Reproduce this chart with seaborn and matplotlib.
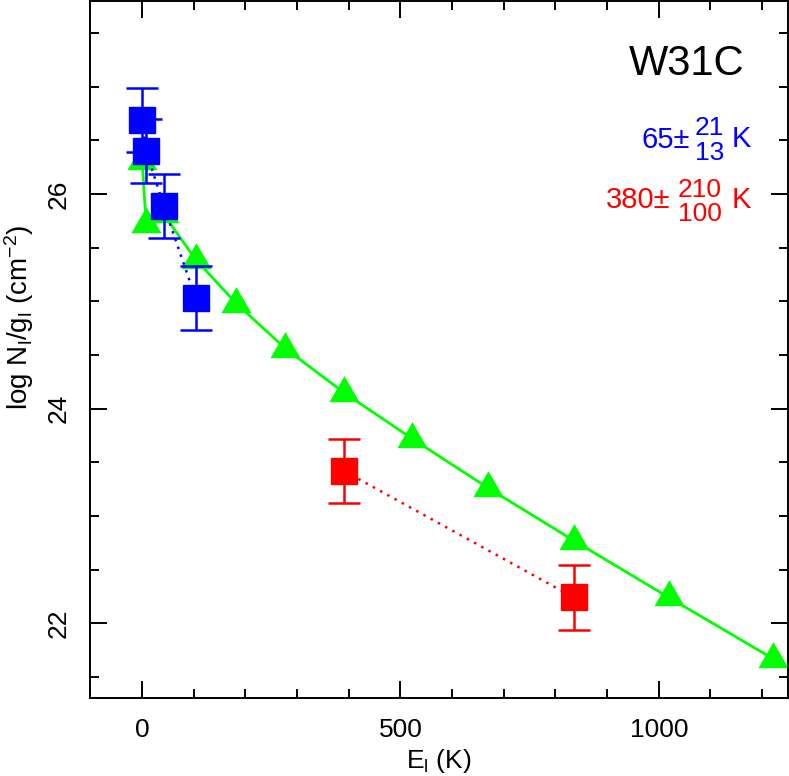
import matplotlib
matplotlib.use("Agg")
import matplotlib.pyplot as plt
from matplotlib.ticker import MultipleLocator
import seaborn as sns
import pandas as pd

# green model curve (triangles); last point lies past the right edge
tri_e = [0, 7.7, 42, 103.5, 182.5, 277.4, 390.5, 522.6, 669.8, 835.5, 1019.4, 1220.7, 1440]
tri_logn = [26.31, 25.72, 25.81, 25.39, 24.98, 24.56, 24.15, 23.72, 23.26, 22.77, 22.24, 21.67, 21.06]

# blue component (cold)
blue_e = [0, 7.7, 42, 103.5]
blue_logn = [26.69, 26.40, 25.89, 25.03]
blue_err = [0.30, 0.30, 0.30, 0.30]

# red component (warm)
red_e = [390.5, 835.5]
red_logn = [23.42, 22.24]
red_err = [0.30, 0.30]

source_name = "W31C"
blue_temp = ("65\u00b1", "21", "13")
red_temp = ("380\u00b1", "210", "100")

sns.set_style("ticks")
plt.rcParams["font.family"] = ["Liberation Sans", "DejaVu Sans"]
plt.rcParams["mathtext.fontset"] = "custom"
plt.rcParams["mathtext.rm"] = "Liberation Sans"
plt.rcParams["mathtext.default"] = "regular"

fig = plt.figure(figsize=(7.89, 7.76), dpi=100)
ax = fig.add_axes([0.1147, 0.1001, 0.8840, 0.8986])

tri = [(0, 0.577), (-0.5, -0.289), (0.5, -0.289)]
df_tri = pd.DataFrame({"E": tri_e, "N": tri_logn})
sns.lineplot(data=df_tri, x="E", y="N", ax=ax, color="#00ff00", lw=2,
             marker=tri, markersize=25, markeredgewidth=0, sort=False,
             estimator=None, zorder=2)

df_blue = pd.DataFrame({"E": blue_e, "N": blue_logn})
df_red = pd.DataFrame({"E": red_e, "N": red_logn})
sns.lineplot(data=df_blue, x="E", y="N", ax=ax, color="#0000ff", lw=1.8,
             linestyle=(0, (1, 2.3)), sort=False, estimator=None, zorder=3)
sns.lineplot(data=df_red, x="E", y="N", ax=ax, color="#ff0000", lw=1.8,
             linestyle=(0, (1, 2.3)), sort=False, estimator=None, zorder=3)

ax.errorbar(blue_e, blue_logn, yerr=blue_err, fmt="s", color="#0000ff",
            ms=19, mec="#0000ff", elinewidth=1.8, capsize=11.5, capthick=1.8, zorder=4)
ax.errorbar(red_e, red_logn, yerr=red_err, fmt="s", color="#ff0000",
            ms=19, mec="#ff0000", elinewidth=1.8, capsize=11.5, capthick=1.8, zorder=4)

ax.set_xlim(-100, 1250)
ax.set_ylim(21.3, 27.8)
ax.xaxis.set_major_locator(MultipleLocator(500))
ax.xaxis.set_minor_locator(MultipleLocator(100))
ax.yaxis.set_major_locator(MultipleLocator(2))
ax.yaxis.set_minor_locator(MultipleLocator(0.5))
ax.tick_params(which="both", direction="in", top=True, right=True,
               width=1.4, colors="black", labelsize=19, pad=14)
ax.tick_params(which="major", length=12)
ax.tick_params(which="minor", length=6.5)
for lab in ax.get_yticklabels():
    lab.set_rotation(90)
    lab.set_va("center")
for sp in ax.spines.values():
    sp.set_linewidth(1.4)
    sp.set_color("black")

ax.set_xlabel(r"E$_{l}$ (K)", fontsize=19, labelpad=4, color="black")
ax.set_ylabel(r"log N$_{l}$/g$_{l}$ (cm$^{-2}$)", fontsize=20, color="black")
ax.yaxis.set_label_coords(-0.078, 0.547)

tr = ax.transAxes
ax.text(0.938, 0.9097, source_name, transform=tr, ha="right", va="center",
        fontsize=30, color="black")

ax.text(0.8595, 0.7888, blue_temp[0], transform=tr, ha="right", va="baseline", fontsize=21, color="#0000ff")
ax.text(0.8667, 0.8085, blue_temp[1], transform=tr, ha="left", va="baseline", fontsize=19, color="#0000ff")
ax.text(0.8667, 0.7725, blue_temp[2], transform=tr, ha="left", va="baseline", fontsize=19, color="#0000ff")
ax.text(0.9193, 0.7911, "K", transform=tr, ha="left", va="baseline", fontsize=21, color="#0000ff")

ax.text(0.8308, 0.7027, red_temp[0], transform=tr, ha="right", va="baseline", fontsize=21, color="#ff0000")
ax.text(0.8423, 0.7190, red_temp[1], transform=tr, ha="left", va="baseline", fontsize=19, color="#ff0000")
ax.text(0.8423, 0.6840, red_temp[2], transform=tr, ha="left", va="baseline", fontsize=19, color="#ff0000")
ax.text(0.9193, 0.7027, "K", transform=tr, ha="left", va="baseline", fontsize=21, color="#ff0000")

fig.savefig("out.png", dpi=100)
